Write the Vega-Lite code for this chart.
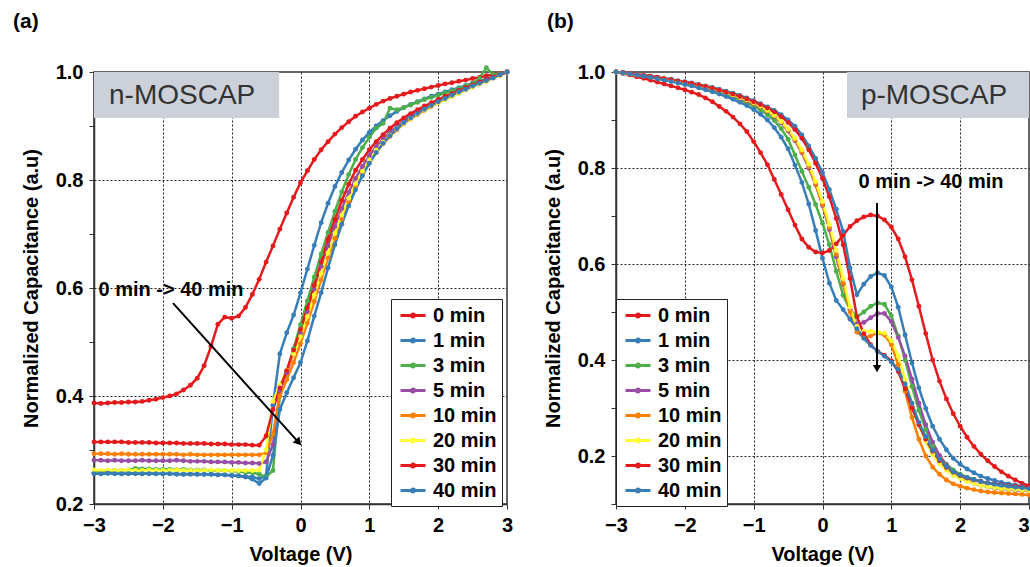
{
"$schema":"https://vega.github.io/schema/vega-lite/v6.json",
"background":"white",
"padding":{"left":12,"top":10,"right":0,"bottom":0},
"bounds":"flush",
"spacing":109,
"resolve":{"scale":{"color":"independent"},"legend":{"color":"independent"}},
"config":{
"view":{"stroke":"#333","strokeWidth":1.5},
"font":"Liberation Sans",
"axis":{"labelFont":"Liberation Sans","labelFontSize":20,"labelFontWeight":"bold","labelColor":"black","titleFont":"Liberation Sans","titleFontSize":20,"titleFontWeight":"bold","titleColor":"black","domainColor":"#333","domainWidth":1.5,"tickColor":"#333","tickSize":5,"tickWidth":1,"gridColor":"#222","gridDash":[2,2],"gridWidth":1,"labelOverlap":false,"labelFlush":false,"labelPadding":6},
"legend":{"labelFont":"Liberation Sans","labelFontSize":20,"labelFontWeight":"bold","labelColor":"black","symbolSize":400,"symbolStrokeWidth":3,"labelOffset":14,"rowPadding":3,"padding":5,"strokeColor":"#222","fillColor":"white"}
},
"datasets":{
"left":[
{"V":-3,"0 min":0.387,"1 min":0.257,"3 min":0.259,"5 min":0.281,"10 min":0.293,"20 min":0.263,"30 min":0.315,"40 min":0.256},
{"V":-2.9,"0 min":0.386,"1 min":0.256,"3 min":0.26,"5 min":0.281,"10 min":0.293,"20 min":0.262,"30 min":0.315,"40 min":0.256},
{"V":-2.8,"0 min":0.387,"1 min":0.257,"3 min":0.261,"5 min":0.28,"10 min":0.293,"20 min":0.263,"30 min":0.315,"40 min":0.257},
{"V":-2.7,"0 min":0.388,"1 min":0.257,"3 min":0.262,"5 min":0.281,"10 min":0.292,"20 min":0.262,"30 min":0.315,"40 min":0.256},
{"V":-2.6,"0 min":0.388,"1 min":0.256,"3 min":0.262,"5 min":0.28,"10 min":0.293,"20 min":0.262,"30 min":0.315,"40 min":0.256},
{"V":-2.5,"0 min":0.389,"1 min":0.257,"3 min":0.263,"5 min":0.28,"10 min":0.292,"20 min":0.263,"30 min":0.314,"40 min":0.256},
{"V":-2.4,"0 min":0.389,"1 min":0.257,"3 min":0.266,"5 min":0.28,"10 min":0.292,"20 min":0.262,"30 min":0.314,"40 min":0.256},
{"V":-2.3,"0 min":0.39,"1 min":0.256,"3 min":0.265,"5 min":0.281,"10 min":0.292,"20 min":0.262,"30 min":0.314,"40 min":0.256},
{"V":-2.2,"0 min":0.392,"1 min":0.257,"3 min":0.265,"5 min":0.28,"10 min":0.292,"20 min":0.263,"30 min":0.314,"40 min":0.256},
{"V":-2.1,"0 min":0.394,"1 min":0.256,"3 min":0.264,"5 min":0.28,"10 min":0.292,"20 min":0.262,"30 min":0.313,"40 min":0.256},
{"V":-2,"0 min":0.397,"1 min":0.256,"3 min":0.264,"5 min":0.28,"10 min":0.292,"20 min":0.262,"30 min":0.313,"40 min":0.256},
{"V":-1.9,"0 min":0.4,"1 min":0.256,"3 min":0.264,"5 min":0.28,"10 min":0.292,"20 min":0.262,"30 min":0.313,"40 min":0.256},
{"V":-1.8,"0 min":0.404,"1 min":0.256,"3 min":0.263,"5 min":0.281,"10 min":0.292,"20 min":0.263,"30 min":0.313,"40 min":0.255},
{"V":-1.7,"0 min":0.411,"1 min":0.255,"3 min":0.264,"5 min":0.28,"10 min":0.291,"20 min":0.262,"30 min":0.312,"40 min":0.255},
{"V":-1.6,"0 min":0.42,"1 min":0.256,"3 min":0.263,"5 min":0.279,"10 min":0.292,"20 min":0.262,"30 min":0.312,"40 min":0.255},
{"V":-1.5,"0 min":0.433,"1 min":0.255,"3 min":0.263,"5 min":0.279,"10 min":0.291,"20 min":0.262,"30 min":0.312,"40 min":0.255},
{"V":-1.4,"0 min":0.456,"1 min":0.255,"3 min":0.263,"5 min":0.279,"10 min":0.291,"20 min":0.262,"30 min":0.312,"40 min":0.255},
{"V":-1.3,"0 min":0.492,"1 min":0.255,"3 min":0.262,"5 min":0.278,"10 min":0.291,"20 min":0.263,"30 min":0.311,"40 min":0.255},
{"V":-1.2,"0 min":0.533,"1 min":0.254,"3 min":0.262,"5 min":0.278,"10 min":0.291,"20 min":0.262,"30 min":0.311,"40 min":0.254},
{"V":-1.1,"0 min":0.546,"1 min":0.254,"3 min":0.262,"5 min":0.278,"10 min":0.291,"20 min":0.262,"30 min":0.311,"40 min":0.254},
{"V":-1,"0 min":0.544,"1 min":0.253,"3 min":0.261,"5 min":0.277,"10 min":0.291,"20 min":0.262,"30 min":0.31,"40 min":0.253},
{"V":-0.9,"0 min":0.548,"1 min":0.252,"3 min":0.26,"5 min":0.277,"10 min":0.291,"20 min":0.262,"30 min":0.31,"40 min":0.252},
{"V":-0.8,"0 min":0.564,"1 min":0.251,"3 min":0.259,"5 min":0.276,"10 min":0.291,"20 min":0.262,"30 min":0.31,"40 min":0.25},
{"V":-0.7,"0 min":0.588,"1 min":0.25,"3 min":0.258,"5 min":0.276,"10 min":0.291,"20 min":0.262,"30 min":0.309,"40 min":0.246},
{"V":-0.6,"0 min":0.616,"1 min":0.247,"3 min":0.255,"5 min":0.275,"10 min":0.291,"20 min":0.263,"30 min":0.309,"40 min":0.238},
{"V":-0.5,"0 min":0.648,"1 min":0.252,"3 min":0.25,"5 min":0.278,"10 min":0.295,"20 min":0.3,"30 min":0.326,"40 min":0.248},
{"V":-0.4,"0 min":0.678,"1 min":0.383,"3 min":0.262,"5 min":0.31,"10 min":0.33,"20 min":0.39,"30 min":0.375,"40 min":0.29},
{"V":-0.3,"0 min":0.709,"1 min":0.478,"3 min":0.4,"5 min":0.41,"10 min":0.4,"20 min":0.42,"30 min":0.415,"40 min":0.375},
{"V":-0.2,"0 min":0.739,"1 min":0.517,"3 min":0.445,"5 min":0.443,"10 min":0.43,"20 min":0.448,"30 min":0.447,"40 min":0.406},
{"V":-0.1,"0 min":0.768,"1 min":0.55,"3 min":0.488,"5 min":0.478,"10 min":0.462,"20 min":0.478,"30 min":0.485,"40 min":0.434},
{"V":0,"0 min":0.795,"1 min":0.591,"3 min":0.532,"5 min":0.516,"10 min":0.497,"20 min":0.51,"30 min":0.523,"40 min":0.462},
{"V":0.1,"0 min":0.817,"1 min":0.635,"3 min":0.576,"5 min":0.556,"10 min":0.535,"20 min":0.547,"30 min":0.563,"40 min":0.502},
{"V":0.2,"0 min":0.838,"1 min":0.679,"3 min":0.62,"5 min":0.598,"10 min":0.575,"20 min":0.587,"30 min":0.605,"40 min":0.548},
{"V":0.3,"0 min":0.856,"1 min":0.721,"3 min":0.663,"5 min":0.64,"10 min":0.615,"20 min":0.627,"30 min":0.648,"40 min":0.591},
{"V":0.4,"0 min":0.871,"1 min":0.757,"3 min":0.703,"5 min":0.678,"10 min":0.655,"20 min":0.665,"30 min":0.69,"40 min":0.637},
{"V":0.5,"0 min":0.885,"1 min":0.788,"3 min":0.742,"5 min":0.714,"10 min":0.692,"20 min":0.701,"30 min":0.727,"40 min":0.68},
{"V":0.6,"0 min":0.897,"1 min":0.814,"3 min":0.778,"5 min":0.747,"10 min":0.728,"20 min":0.735,"30 min":0.762,"40 min":0.718},
{"V":0.7,"0 min":0.908,"1 min":0.837,"3 min":0.81,"5 min":0.777,"10 min":0.76,"20 min":0.766,"30 min":0.792,"40 min":0.752},
{"V":0.8,"0 min":0.918,"1 min":0.857,"3 min":0.838,"5 min":0.803,"10 min":0.788,"20 min":0.793,"30 min":0.818,"40 min":0.782},
{"V":0.9,"0 min":0.926,"1 min":0.874,"3 min":0.86,"5 min":0.825,"10 min":0.812,"20 min":0.816,"30 min":0.838,"40 min":0.808},
{"V":1,"0 min":0.933,"1 min":0.888,"3 min":0.879,"5 min":0.845,"10 min":0.833,"20 min":0.837,"30 min":0.856,"40 min":0.831},
{"V":1.1,"0 min":0.94,"1 min":0.9,"3 min":0.896,"5 min":0.862,"10 min":0.851,"20 min":0.855,"30 min":0.871,"40 min":0.851},
{"V":1.2,"0 min":0.946,"1 min":0.91,"3 min":0.905,"5 min":0.876,"10 min":0.867,"20 min":0.87,"30 min":0.884,"40 min":0.868},
{"V":1.3,"0 min":0.951,"1 min":0.919,"3 min":0.933,"5 min":0.888,"10 min":0.881,"20 min":0.883,"30 min":0.896,"40 min":0.882},
{"V":1.4,"0 min":0.955,"1 min":0.927,"3 min":0.93,"5 min":0.899,"10 min":0.893,"20 min":0.895,"30 min":0.906,"40 min":0.895},
{"V":1.5,"0 min":0.959,"1 min":0.934,"3 min":0.934,"5 min":0.909,"10 min":0.904,"20 min":0.905,"30 min":0.915,"40 min":0.906},
{"V":1.6,"0 min":0.963,"1 min":0.94,"3 min":0.939,"5 min":0.918,"10 min":0.913,"20 min":0.914,"30 min":0.923,"40 min":0.915},
{"V":1.7,"0 min":0.966,"1 min":0.945,"3 min":0.944,"5 min":0.926,"10 min":0.921,"20 min":0.922,"30 min":0.93,"40 min":0.923},
{"V":1.8,"0 min":0.969,"1 min":0.95,"3 min":0.949,"5 min":0.933,"10 min":0.929,"20 min":0.93,"30 min":0.937,"40 min":0.931},
{"V":1.9,"0 min":0.972,"1 min":0.955,"3 min":0.953,"5 min":0.94,"10 min":0.936,"20 min":0.937,"30 min":0.943,"40 min":0.938},
{"V":2,"0 min":0.975,"1 min":0.959,"3 min":0.957,"5 min":0.946,"10 min":0.943,"20 min":0.943,"30 min":0.949,"40 min":0.945},
{"V":2.1,"0 min":0.978,"1 min":0.963,"3 min":0.961,"5 min":0.952,"10 min":0.949,"20 min":0.949,"30 min":0.955,"40 min":0.951},
{"V":2.2,"0 min":0.98,"1 min":0.967,"3 min":0.965,"5 min":0.958,"10 min":0.955,"20 min":0.955,"30 min":0.96,"40 min":0.957},
{"V":2.3,"0 min":0.983,"1 min":0.971,"3 min":0.969,"5 min":0.964,"10 min":0.961,"20 min":0.961,"30 min":0.966,"40 min":0.963},
{"V":2.4,"0 min":0.985,"1 min":0.975,"3 min":0.974,"5 min":0.97,"10 min":0.967,"20 min":0.967,"30 min":0.971,"40 min":0.968},
{"V":2.5,"0 min":0.988,"1 min":0.979,"3 min":0.979,"5 min":0.975,"10 min":0.972,"20 min":0.972,"30 min":0.976,"40 min":0.974},
{"V":2.6,"0 min":0.99,"1 min":0.983,"3 min":0.988,"5 min":0.98,"10 min":0.978,"20 min":0.978,"30 min":0.981,"40 min":0.979},
{"V":2.7,"0 min":0.993,"1 min":0.987,"3 min":1.008,"5 min":0.985,"10 min":0.983,"20 min":0.983,"30 min":0.986,"40 min":0.984},
{"V":2.8,"0 min":0.995,"1 min":0.991,"3 min":0.995,"5 min":0.99,"10 min":0.989,"20 min":0.989,"30 min":0.991,"40 min":0.989},
{"V":2.9,"0 min":0.998,"1 min":0.995,"3 min":0.997,"5 min":0.995,"10 min":0.994,"20 min":0.994,"30 min":0.995,"40 min":0.995},
{"V":3,"0 min":1,"1 min":1,"3 min":1,"5 min":1,"10 min":1,"20 min":1,"30 min":1,"40 min":1}
],
"right":[
{"V":-3,"0 min":1,"1 min":1,"3 min":1,"5 min":1,"10 min":1,"20 min":1,"30 min":1,"40 min":1},
{"V":-2.9,"0 min":0.997,"1 min":0.999,"3 min":0.998,"5 min":0.998,"10 min":0.998,"20 min":0.998,"30 min":0.999,"40 min":0.998},
{"V":-2.8,"0 min":0.994,"1 min":0.997,"3 min":0.996,"5 min":0.996,"10 min":0.996,"20 min":0.996,"30 min":0.997,"40 min":0.996},
{"V":-2.7,"0 min":0.99,"1 min":0.995,"3 min":0.994,"5 min":0.994,"10 min":0.994,"20 min":0.994,"30 min":0.995,"40 min":0.994},
{"V":-2.6,"0 min":0.987,"1 min":0.993,"3 min":0.992,"5 min":0.992,"10 min":0.992,"20 min":0.992,"30 min":0.993,"40 min":0.991},
{"V":-2.5,"0 min":0.983,"1 min":0.991,"3 min":0.99,"5 min":0.99,"10 min":0.99,"20 min":0.99,"30 min":0.991,"40 min":0.989},
{"V":-2.4,"0 min":0.979,"1 min":0.989,"3 min":0.987,"5 min":0.988,"10 min":0.988,"20 min":0.988,"30 min":0.989,"40 min":0.986},
{"V":-2.3,"0 min":0.975,"1 min":0.987,"3 min":0.985,"5 min":0.985,"10 min":0.986,"20 min":0.986,"30 min":0.986,"40 min":0.983},
{"V":-2.2,"0 min":0.971,"1 min":0.985,"3 min":0.982,"5 min":0.983,"10 min":0.983,"20 min":0.983,"30 min":0.984,"40 min":0.98},
{"V":-2.1,"0 min":0.967,"1 min":0.982,"3 min":0.979,"5 min":0.98,"10 min":0.98,"20 min":0.98,"30 min":0.981,"40 min":0.977},
{"V":-2,"0 min":0.963,"1 min":0.98,"3 min":0.976,"5 min":0.977,"10 min":0.978,"20 min":0.978,"30 min":0.979,"40 min":0.974},
{"V":-1.9,"0 min":0.958,"1 min":0.977,"3 min":0.973,"5 min":0.974,"10 min":0.975,"20 min":0.975,"30 min":0.976,"40 min":0.971},
{"V":-1.8,"0 min":0.953,"1 min":0.974,"3 min":0.97,"5 min":0.971,"10 min":0.972,"20 min":0.972,"30 min":0.973,"40 min":0.967},
{"V":-1.7,"0 min":0.946,"1 min":0.971,"3 min":0.966,"5 min":0.968,"10 min":0.968,"20 min":0.969,"30 min":0.97,"40 min":0.963},
{"V":-1.6,"0 min":0.938,"1 min":0.968,"3 min":0.962,"5 min":0.964,"10 min":0.965,"20 min":0.965,"30 min":0.966,"40 min":0.959},
{"V":-1.5,"0 min":0.928,"1 min":0.964,"3 min":0.958,"5 min":0.96,"10 min":0.961,"20 min":0.961,"30 min":0.962,"40 min":0.954},
{"V":-1.4,"0 min":0.918,"1 min":0.96,"3 min":0.953,"5 min":0.956,"10 min":0.957,"20 min":0.957,"30 min":0.958,"40 min":0.949},
{"V":-1.3,"0 min":0.906,"1 min":0.956,"3 min":0.948,"5 min":0.951,"10 min":0.952,"20 min":0.952,"30 min":0.954,"40 min":0.943},
{"V":-1.2,"0 min":0.892,"1 min":0.951,"3 min":0.942,"5 min":0.946,"10 min":0.947,"20 min":0.947,"30 min":0.949,"40 min":0.937},
{"V":-1.1,"0 min":0.876,"1 min":0.946,"3 min":0.936,"5 min":0.94,"10 min":0.941,"20 min":0.942,"30 min":0.944,"40 min":0.93},
{"V":-1,"0 min":0.855,"1 min":0.94,"3 min":0.929,"5 min":0.934,"10 min":0.935,"20 min":0.936,"30 min":0.938,"40 min":0.922},
{"V":-0.9,"0 min":0.832,"1 min":0.934,"3 min":0.921,"5 min":0.927,"10 min":0.928,"20 min":0.929,"30 min":0.932,"40 min":0.912},
{"V":-0.8,"0 min":0.807,"1 min":0.927,"3 min":0.911,"5 min":0.918,"10 min":0.919,"20 min":0.92,"30 min":0.925,"40 min":0.9},
{"V":-0.7,"0 min":0.776,"1 min":0.92,"3 min":0.899,"5 min":0.907,"10 min":0.909,"20 min":0.91,"30 min":0.917,"40 min":0.884},
{"V":-0.6,"0 min":0.745,"1 min":0.911,"3 min":0.882,"5 min":0.894,"10 min":0.896,"20 min":0.897,"30 min":0.907,"40 min":0.864},
{"V":-0.5,"0 min":0.713,"1 min":0.9,"3 min":0.86,"5 min":0.877,"10 min":0.879,"20 min":0.881,"30 min":0.895,"40 min":0.84},
{"V":-0.4,"0 min":0.681,"1 min":0.887,"3 min":0.827,"5 min":0.857,"10 min":0.859,"20 min":0.862,"30 min":0.88,"40 min":0.806},
{"V":-0.3,"0 min":0.652,"1 min":0.869,"3 min":0.793,"5 min":0.832,"10 min":0.834,"20 min":0.838,"30 min":0.862,"40 min":0.77},
{"V":-0.2,"0 min":0.635,"1 min":0.846,"3 min":0.76,"5 min":0.8,"10 min":0.803,"20 min":0.808,"30 min":0.838,"40 min":0.725},
{"V":-0.1,"0 min":0.625,"1 min":0.82,"3 min":0.724,"5 min":0.765,"10 min":0.766,"20 min":0.772,"30 min":0.81,"40 min":0.67},
{"V":0,"0 min":0.623,"1 min":0.79,"3 min":0.685,"5 min":0.722,"10 min":0.724,"20 min":0.73,"30 min":0.778,"40 min":0.612},
{"V":0.1,"0 min":0.628,"1 min":0.755,"3 min":0.64,"5 min":0.672,"10 min":0.676,"20 min":0.682,"30 min":0.74,"40 min":0.56},
{"V":0.2,"0 min":0.642,"1 min":0.714,"3 min":0.585,"5 min":0.615,"10 min":0.62,"20 min":0.628,"30 min":0.695,"40 min":0.524},
{"V":0.3,"0 min":0.66,"1 min":0.668,"3 min":0.535,"5 min":0.558,"10 min":0.56,"20 min":0.57,"30 min":0.64,"40 min":0.505},
{"V":0.4,"0 min":0.678,"1 min":0.592,"3 min":0.505,"5 min":0.505,"10 min":0.5,"20 min":0.51,"30 min":0.57,"40 min":0.485},
{"V":0.5,"0 min":0.69,"1 min":0.536,"3 min":0.49,"5 min":0.475,"10 min":0.458,"20 min":0.47,"30 min":0.49,"40 min":0.465},
{"V":0.6,"0 min":0.698,"1 min":0.558,"3 min":0.5,"5 min":0.478,"10 min":0.447,"20 min":0.46,"30 min":0.455,"40 min":0.445},
{"V":0.7,"0 min":0.702,"1 min":0.574,"3 min":0.512,"5 min":0.488,"10 min":0.45,"20 min":0.46,"30 min":0.432,"40 min":0.43},
{"V":0.8,"0 min":0.7,"1 min":0.582,"3 min":0.519,"5 min":0.497,"10 min":0.457,"20 min":0.458,"30 min":0.418,"40 min":0.418},
{"V":0.9,"0 min":0.692,"1 min":0.576,"3 min":0.516,"5 min":0.497,"10 min":0.452,"20 min":0.456,"30 min":0.41,"40 min":0.408},
{"V":1,"0 min":0.677,"1 min":0.552,"3 min":0.492,"5 min":0.48,"10 min":0.432,"20 min":0.44,"30 min":0.398,"40 min":0.396},
{"V":1.1,"0 min":0.652,"1 min":0.51,"3 min":0.45,"5 min":0.447,"10 min":0.39,"20 min":0.408,"30 min":0.376,"40 min":0.38},
{"V":1.2,"0 min":0.615,"1 min":0.452,"3 min":0.4,"5 min":0.408,"10 min":0.335,"20 min":0.36,"30 min":0.34,"40 min":0.35},
{"V":1.3,"0 min":0.567,"1 min":0.394,"3 min":0.345,"5 min":0.36,"10 min":0.28,"20 min":0.31,"30 min":0.3,"40 min":0.31},
{"V":1.4,"0 min":0.512,"1 min":0.342,"3 min":0.295,"5 min":0.31,"10 min":0.235,"20 min":0.265,"30 min":0.265,"40 min":0.27},
{"V":1.5,"0 min":0.455,"1 min":0.299,"3 min":0.255,"5 min":0.265,"10 min":0.2,"20 min":0.23,"30 min":0.235,"40 min":0.24},
{"V":1.6,"0 min":0.4,"1 min":0.262,"3 min":0.222,"5 min":0.229,"10 min":0.177,"20 min":0.203,"30 min":0.21,"40 min":0.212},
{"V":1.7,"0 min":0.356,"1 min":0.235,"3 min":0.199,"5 min":0.201,"10 min":0.162,"20 min":0.184,"30 min":0.19,"40 min":0.193},
{"V":1.8,"0 min":0.319,"1 min":0.213,"3 min":0.183,"5 min":0.181,"10 min":0.15,"20 min":0.17,"30 min":0.176,"40 min":0.178},
{"V":1.9,"0 min":0.288,"1 min":0.195,"3 min":0.171,"5 min":0.167,"10 min":0.142,"20 min":0.16,"30 min":0.166,"40 min":0.167},
{"V":2,"0 min":0.262,"1 min":0.183,"3 min":0.162,"5 min":0.157,"10 min":0.137,"20 min":0.153,"30 min":0.159,"40 min":0.16},
{"V":2.1,"0 min":0.239,"1 min":0.173,"3 min":0.156,"5 min":0.149,"10 min":0.133,"20 min":0.147,"30 min":0.154,"40 min":0.155},
{"V":2.2,"0 min":0.22,"1 min":0.165,"3 min":0.151,"5 min":0.143,"10 min":0.13,"20 min":0.143,"30 min":0.15,"40 min":0.151},
{"V":2.3,"0 min":0.204,"1 min":0.158,"3 min":0.147,"5 min":0.139,"10 min":0.127,"20 min":0.139,"30 min":0.147,"40 min":0.147},
{"V":2.4,"0 min":0.19,"1 min":0.153,"3 min":0.143,"5 min":0.136,"10 min":0.125,"20 min":0.136,"30 min":0.144,"40 min":0.144},
{"V":2.5,"0 min":0.178,"1 min":0.149,"3 min":0.14,"5 min":0.133,"10 min":0.124,"20 min":0.134,"30 min":0.142,"40 min":0.141},
{"V":2.6,"0 min":0.167,"1 min":0.145,"3 min":0.138,"5 min":0.131,"10 min":0.123,"20 min":0.132,"30 min":0.14,"40 min":0.139},
{"V":2.7,"0 min":0.158,"1 min":0.142,"3 min":0.136,"5 min":0.13,"10 min":0.122,"20 min":0.131,"30 min":0.138,"40 min":0.137},
{"V":2.8,"0 min":0.15,"1 min":0.139,"3 min":0.134,"5 min":0.129,"10 min":0.121,"20 min":0.13,"30 min":0.137,"40 min":0.135},
{"V":2.9,"0 min":0.143,"1 min":0.137,"3 min":0.133,"5 min":0.128,"10 min":0.12,"20 min":0.129,"30 min":0.136,"40 min":0.134},
{"V":3,"0 min":0.138,"1 min":0.135,"3 min":0.132,"5 min":0.127,"10 min":0.119,"20 min":0.128,"30 min":0.135,"40 min":0.132}
]
},
"hconcat":[
{
"width":413,"height":432,
"layer":[
{"data":{"name":"left"},
"transform":[{"fold":["0 min","1 min","3 min","5 min","10 min","20 min","30 min","40 min"],"as":["series","C"]}],
"mark":{"type":"line","strokeWidth":2.5,"point":{"filled":true,"size":24}},
"encoding":{
"x":{"field":"V","type":"quantitative","scale":{"domain":[-3,3],"nice":false,"zero":false},
"axis":{"title":"Voltage (V)","titlePadding":9,"values":[-3,-2.5,-2,-1.5,-1,-0.5,0,0.5,1,1.5,2,2.5,3],"labelExpr":"datum.value % 1 == 0 ? format(datum.value, 'd') : ''","gridOpacity":{"condition":{"test":"datum.value % 1 == 0 && abs(datum.value) < 2.5","value":1},"value":0}}},
"y":{"field":"C","type":"quantitative","scale":{"domain":[0.2,1],"nice":false,"zero":false},
"axis":{"title":"Normalized Capacitance (a.u)","titlePadding":14,"values":[0.2,0.3,0.4,0.5,0.6,0.7,0.8,0.9,1.0],"labelExpr":"round(datum.value*10) % 2 == 0 ? format(datum.value, '.1f') : ''","gridOpacity":{"condition":{"test":"round(datum.value*10) % 2 == 0 && datum.value > 0.25 && datum.value < 0.95","value":1},"value":0}}},
"color":{"field":"series","type":"nominal","scale":{"domain":["0 min","1 min","3 min","5 min","10 min","20 min","30 min","40 min"],"range":["#e41a1c","#377eb8","#4daf4a","#984ea3","#ff7f00","#ffff33","#e41a1c","#377eb8"]},
"legend":{"title":null,"orient":"none","legendX":297,"legendY":227,"symbolType":"M-0.7,0H1.8M0.4,0A0.15,0.15,0,1,1,0.7,0A0.15,0.15,0,1,1,0.4,0Z"}}
}},
{"data":{"values":[{}]},"mark":{"type":"rect","fill":"#cbd0d9"},
"encoding":{"x":{"datum":-3,"type":"quantitative"},"x2":{"datum":-0.31},"y":{"datum":1,"type":"quantitative"},"y2":{"datum":0.915}}},
{"data":{"values":[{}]},"mark":{"type":"text","font":"Liberation Sans","fontSize":28,"color":"#333","align":"center","baseline":"middle"},
"encoding":{"x":{"datum":-1.72,"type":"quantitative"},"y":{"datum":0.955,"type":"quantitative"},"text":{"value":"n-MOSCAP"}}},
{"data":{"values":[{}]},"mark":{"type":"text","font":"Liberation Sans","fontSize":20,"fontWeight":"bold","color":"black","align":"center","baseline":"middle"},
"encoding":{"x":{"datum":-1.881,"type":"quantitative"},"y":{"datum":0.597,"type":"quantitative"},"text":{"value":"0 min -> 40 min"}}},
{"data":{"values":[{}]},"mark":{"type":"rule","strokeWidth":2,"color":"black"},
"encoding":{"x":{"datum":-1.852,"type":"quantitative"},"x2":{"datum":-0.027},"y":{"datum":0.572,"type":"quantitative"},"y2":{"datum":0.314}}},
{"data":{"values":[{}]},"mark":{"type":"point","shape":"triangle-up","filled":true,"color":"black","opacity":1,"size":80,"angle":138},
"encoding":{"x":{"datum":-0.027,"type":"quantitative"},"y":{"datum":0.314,"type":"quantitative"}}},
{"data":{"values":[{}]},"mark":{"type":"text","font":"Liberation Sans","fontSize":21,"fontWeight":"bold","color":"black","align":"left","baseline":"top"},
"encoding":{"x":{"datum":-4.177,"type":"quantitative"},"y":{"datum":1.113,"type":"quantitative"},"text":{"value":"(a)"}}}
]
},
{
"width":413,"height":432,
"layer":[
{"data":{"name":"right"},
"transform":[{"fold":["0 min","1 min","3 min","5 min","10 min","20 min","30 min","40 min"],"as":["series","C"]}],
"mark":{"type":"line","strokeWidth":2.5,"point":{"filled":true,"size":24}},
"encoding":{
"x":{"field":"V","type":"quantitative","scale":{"domain":[-3,3],"nice":false,"zero":false},
"axis":{"title":"Voltage (V)","titlePadding":9,"values":[-3,-2.5,-2,-1.5,-1,-0.5,0,0.5,1,1.5,2,2.5,3],"labelExpr":"datum.value % 1 == 0 ? format(datum.value, 'd') : ''","labelAlign":{"condition":{"test":"datum.value == 3","value":"right"},"value":"center"},"gridOpacity":{"condition":{"test":"datum.value % 1 == 0 && abs(datum.value) < 2.5","value":1},"value":0}}},
"y":{"field":"C","type":"quantitative","scale":{"domain":[0.1,1],"nice":false,"zero":false},
"axis":{"title":"Normalized Capacitance (a.u)","titlePadding":14,"values":[0.1,0.2,0.3,0.4,0.5,0.6,0.7,0.8,0.9,1.0],"labelExpr":"round(datum.value*10) % 2 == 0 ? format(datum.value, '.1f') : ''","gridOpacity":{"condition":{"test":"round(datum.value*10) % 2 == 0 && datum.value > 0.15 && datum.value < 0.95","value":1},"value":0}}},
"color":{"field":"series","type":"nominal","scale":{"domain":["0 min","1 min","3 min","5 min","10 min","20 min","30 min","40 min"],"range":["#e41a1c","#377eb8","#4daf4a","#984ea3","#ff7f00","#ffff33","#e41a1c","#377eb8"]},
"legend":{"title":null,"orient":"none","legendX":0,"legendY":227,"symbolType":"M-0.7,0H1.8M0.4,0A0.15,0.15,0,1,1,0.7,0A0.15,0.15,0,1,1,0.4,0Z"}}
}},
{"data":{"values":[{}]},"mark":{"type":"rect","fill":"#cbd0d9"},
"encoding":{"x":{"datum":0.356,"type":"quantitative"},"x2":{"datum":3},"y":{"datum":1,"type":"quantitative"},"y2":{"datum":0.904}}},
{"data":{"values":[{}]},"mark":{"type":"text","font":"Liberation Sans","fontSize":28,"color":"#333","align":"center","baseline":"middle"},
"encoding":{"x":{"datum":1.62,"type":"quantitative"},"y":{"datum":0.95,"type":"quantitative"},"text":{"value":"p-MOSCAP"}}},
{"data":{"values":[{}]},"mark":{"type":"text","font":"Liberation Sans","fontSize":20,"fontWeight":"bold","color":"black","align":"center","baseline":"middle"},
"encoding":{"x":{"datum":1.576,"type":"quantitative"},"y":{"datum":0.771,"type":"quantitative"},"text":{"value":"0 min -> 40 min"}}},
{"data":{"values":[{}]},"mark":{"type":"rule","strokeWidth":2,"color":"black"},
"encoding":{"x":{"datum":0.792,"type":"quantitative"},"y":{"datum":0.727,"type":"quantitative"},"y2":{"datum":0.382}}},
{"data":{"values":[{}]},"mark":{"type":"point","shape":"triangle-down","filled":true,"color":"black","opacity":1,"size":70},
"encoding":{"x":{"datum":0.792,"type":"quantitative"},"y":{"datum":0.382,"type":"quantitative"}}},
{"data":{"values":[{}]},"mark":{"type":"text","font":"Liberation Sans","fontSize":21,"fontWeight":"bold","color":"black","align":"left","baseline":"top"},
"encoding":{"x":{"datum":-4.0025,"type":"quantitative"},"y":{"datum":1.127,"type":"quantitative"},"text":{"value":"(b)"}}}
]
}
]
}
